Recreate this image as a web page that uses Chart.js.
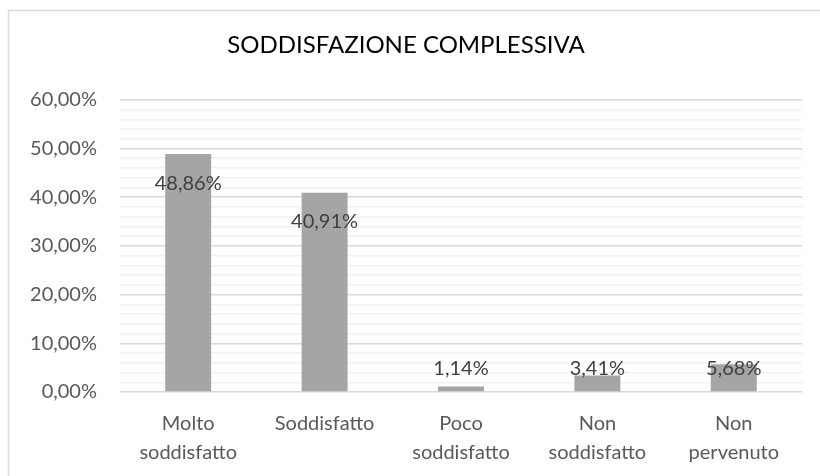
<!DOCTYPE html>
<html>
<head>
<meta charset="utf-8">
<script src="https://cdn.jsdelivr.net/npm/chart.js@4/dist/chart.umd.min.js"></script>
<style>
  html, body { margin: 0; padding: 0; background: #ffffff; }
  #wrap { position: relative; width: 820px; height: 476px; }
</style>
</head>
<body>
<div id="wrap"><canvas id="chart" width="820" height="476"></canvas></div>
<script>
// Survey results: overall satisfaction
const categories = [
  ['Molto', 'soddisfatto'],
  'Soddisfatto',
  ['Poco', 'soddisfatto'],
  ['Non', 'soddisfatto'],
  ['Non', 'pervenuto']
];
const percentages = [48.86, 40.91, 1.14, 3.41, 5.68];
const chartTitle = 'SODDISFAZIONE COMPLESSIVA';

const FONT = 'Lato, "Open Sans", sans-serif';

function formatPct(v) {
  return v.toFixed(2).replace('.', ',') + '%';
}

// light frame around the whole chart
const framePlugin = {
  id: 'frame',
  beforeDraw(chart) {
    const ctx = chart.ctx;
    ctx.save();
    ctx.fillStyle = '#ffffff';
    ctx.fillRect(0, 0, chart.width, chart.height);
    ctx.strokeStyle = '#d9d9d9';
    ctx.lineWidth = 1.5;
    ctx.strokeRect(8.5, 10.5, chart.width + 10, chart.height + 10);
    ctx.restore();
  }
};

// value labels, placed a little below the bar top (never below the 5% band)
const valueLabels = {
  id: 'valueLabels',
  afterDatasetsDraw(chart) {
    const ctx = chart.ctx;
    const meta = chart.getDatasetMeta(0);
    const yScale = chart.scales.y;
    ctx.save();
    ctx.font = '20px ' + FONT;
    ctx.fillStyle = '#404040';
    ctx.textAlign = 'center';
    ctx.textBaseline = 'middle';
    meta.data.forEach((bar, i) => {
      const v = chart.data.datasets[0].data[i];
      const y = yScale.getPixelForValue(Math.max(v - 6, 4.9));
      ctx.fillText(formatPct(v), bar.x, y);
    });
    ctx.restore();
  }
};

new Chart(document.getElementById('chart'), {
  type: 'bar',
  data: {
    labels: categories,
    datasets: [{
      data: percentages,
      backgroundColor: '#a5a5a5',
      borderWidth: 0,
      barPercentage: 0.337,
      categoryPercentage: 1
    }]
  },
  options: {
    responsive: false,
    animation: false,
    layout: { padding: { top: 10, right: 18, bottom: 0, left: 10 } },
    plugins: {
      legend: { display: false },
      tooltip: { enabled: false },
      title: {
        display: true,
        text: chartTitle,
        color: '#000000',
        font: { family: FONT, size: 24, weight: 'normal', lineHeight: 1.2 },
        padding: { top: 21, bottom: 40 }
      }
    },
    scales: {
      x: {
        grid: { display: false, drawTicks: false },
        border: { display: false },
        ticks: {
          color: '#595959',
          font: { family: FONT, size: 20, lineHeight: 1.45 },
          padding: 17,
          maxRotation: 0,
          autoSkip: false
        },
        afterFit(scale) { scale.height = 84; }
      },
      y: {
        min: 0,
        max: 60,
        border: { display: false },
        grid: {
          drawTicks: false,
          lineWidth: 1.5,
          color: (c) => (c.tick && Math.round(c.tick.value) % 10 === 0) ? '#d9d9d9' : '#f2f2f2'
        },
        ticks: {
          stepSize: 2,
          autoSkip: false,
          color: '#595959',
          font: { family: FONT, size: 20 },
          padding: 23,
          callback: (v) => (Math.round(v) % 10 === 0) ? formatPct(v) : ''
        },
        afterFit(scale) { scale.width = 110; }
      }
    }
  },
  plugins: [framePlugin, valueLabels]
});
</script>
</body>
</html>
